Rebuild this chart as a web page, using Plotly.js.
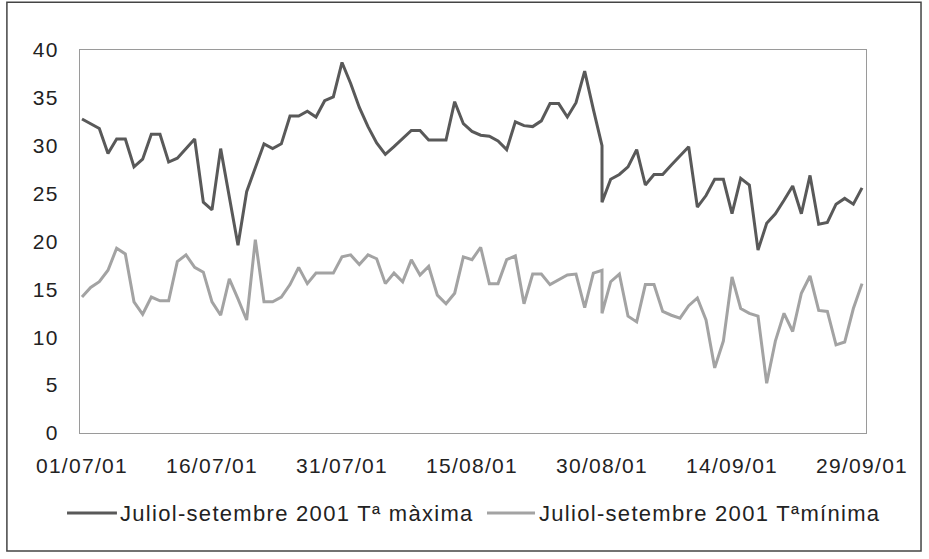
<!DOCTYPE html>
<html>
<head>
<meta charset="utf-8">
<script src="https://cdn.plot.ly/plotly-3.0.1.min.js"></script>
<style>
  html, body { margin: 0; padding: 0; background: #fff; }
  #chart { width: 929px; height: 559px; }
  svg text { letter-spacing: 1.3px; }
</style>
</head>
<body>
<div id="chart"></div>
<script>
// ---- data ----
const firstDay = '2001-07-01';
const dayCount = 91;          // 01/07/01 .. 29/09/01
const repeatedDayIndex = 60;  // 30/08/01 appears twice in the source table

const seriesNames = ['Juliol-setembre 2001 T\u00aa m\u00e0xima', 'Juliol-setembre 2001 T\u00aam\u00ednima'];
const seriesColors = ['#595959', '#a3a3a3'];

const tMax = [
  32.8, 32.3, 31.8, 29.2, 30.7, 30.7, 27.8, 28.6, 31.2, 31.2,
  28.3, 28.7, 29.7, 30.7, 24.1, 23.3, 29.7, 24.6, 19.6, 25.2,
  27.7, 30.2, 29.7, 30.2, 33.1, 33.1, 33.6, 33.0, 34.7, 35.1,
  38.7, 36.5, 34.0, 32.0, 30.3, 29.1, 29.9, 30.7, 31.6, 31.6,
  30.6, 30.6, 30.6, 34.6, 32.3, 31.5, 31.1, 31.0, 30.5, 29.6,
  32.5, 32.1, 32.0, 32.6, 34.4, 34.4, 33.0, 34.5, 37.8, 33.8,
  30.0, 24.1,
  26.5, 27.0, 27.8, 29.6, 25.9, 27.0, 27.0, 28.0, 28.9, 29.9,
  23.6, 24.8, 26.5, 26.5, 22.9, 26.6, 25.9, 19.1, 21.9, 22.9,
  24.3, 25.8, 22.9, 26.9, 21.8, 22.0, 23.9, 24.5, 23.9, 25.6
];

const tMin = [
  14.2, 15.2, 15.8, 17.0, 19.3, 18.7, 13.7, 12.4, 14.2, 13.8,
  13.8, 17.9, 18.6, 17.3, 16.8, 13.7, 12.3, 16.1, 14.0, 11.8,
  20.2, 13.7, 13.7, 14.2, 15.5, 17.3, 15.6, 16.7, 16.7, 16.7,
  18.4, 18.6, 17.6, 18.6, 18.2, 15.6, 16.7, 15.8, 18.1, 16.5,
  17.4, 14.4, 13.5, 14.6, 18.4, 18.1, 19.4, 15.6, 15.6, 18.1,
  18.5, 13.5, 16.6, 16.6, 15.5, 16.0, 16.5, 16.6, 13.1, 16.7,
  17.0, 12.5,
  15.8, 16.6, 12.2, 11.6, 15.5, 15.5, 12.7, 12.3, 12.0, 13.3,
  14.1, 11.8, 6.8, 9.6, 16.3, 13.0, 12.5, 12.2, 5.2, 9.6,
  12.5, 10.6, 14.6, 16.4, 12.8, 12.7, 9.2, 9.5, 13.0, 15.6
];

const yTicks = [0, 5, 10, 15, 20, 25, 30, 35, 40];

// ---- build date categories ----
const dates = [];
const base = new Date(firstDay + 'T00:00:00Z');
for (let i = 0; i < dayCount; i++) {
  const d = new Date(base.getTime() + i * 86400000);
  const s = d.toISOString().slice(0, 10);
  dates.push(s);
  if (i === repeatedDayIndex) dates.push(s);
}

const FONT = 'Liberation Sans, Arial, Helvetica, sans-serif';

const traces = [
  { x: dates, y: tMax, type: 'scatter', mode: 'lines', name: seriesNames[0],
    line: { color: seriesColors[0], width: 3 } },
  { x: dates, y: tMin, type: 'scatter', mode: 'lines', name: seriesNames[1],
    line: { color: seriesColors[1], width: 3 } }
];

// custom legend (longer line samples, like the original)
const legY = -0.209;
const legItems = [
  { x0: -0.0165, x1: 0.047, tx: 0.0483 },
  { x0: 0.5178, x1: 0.5789, tx: 0.5814 }
];
const shapes = [
  { type: 'rect', xref: 'paper', yref: 'paper',
    x0: -0.093, x1: 1.07, y0: -0.308, y1: 1.125,
    line: { color: '#444', width: 1.5 }, fillcolor: 'rgba(0,0,0,0)', layer: 'below' }
];
const annotations = [];
legItems.forEach((it, i) => {
  shapes.push({ type: 'line', xref: 'paper', yref: 'paper', x0: it.x0, x1: it.x1, y0: legY, y1: legY,
                line: { color: seriesColors[i], width: 3 } });
  annotations.push({ xref: 'paper', yref: 'paper', x: it.tx, y: legY, xanchor: 'left', yanchor: 'middle',
                     text: seriesNames[i], showarrow: false,
                     font: { family: FONT, size: 22, color: '#222' } });
});

const layout = {
  width: 929, height: 559,
  margin: { l: 80, r: 63, t: 50, b: 126 },
  paper_bgcolor: '#ffffff', plot_bgcolor: '#ffffff',
  font: { family: FONT, size: 21, color: '#222' },
  showlegend: false,
  xaxis: {
    type: 'date',
    range: ['2001-06-30T18:30:00', '2001-09-29T11:00:00'],
    tick0: firstDay, dtick: 15 * 86400000, tickformat: '%d/%m/%y',
    showgrid: false, zeroline: false,
    showline: true, linecolor: '#9a9a9a', linewidth: 1, mirror: true,
    ticks: '', ticklabelstandoff: 14,
    tickfont: { family: FONT, size: 21, color: '#222' }
  },
  yaxis: {
    range: [0, 40], tickvals: yTicks, ticktext: yTicks.map(String),
    showgrid: false, zeroline: false,
    showline: true, linecolor: '#9a9a9a', linewidth: 1, mirror: true,
    ticks: '', ticklabelstandoff: 16,
    tickfont: { family: FONT, size: 21, color: '#222' }
  },
  shapes: shapes,
  annotations: annotations
};

Plotly.newPlot('chart', traces, layout, { displayModeBar: false, staticPlot: true });
</script>
</body>
</html>
